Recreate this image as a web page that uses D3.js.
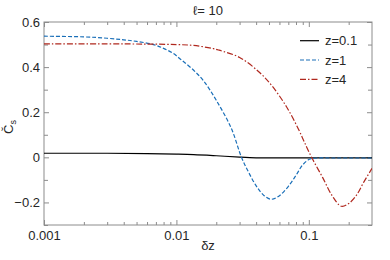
<!DOCTYPE html>
<html>
<head>
<meta charset="utf-8">
<script src="https://cdn.jsdelivr.net/npm/d3@7"></script>
<style>
  body { margin: 0; background: #fff; }
  text { font-family: "Liberation Sans", Arial, sans-serif; fill: #262626; }
</style>
</head>
<body>
<svg id="chart" width="390" height="260"></svg>
<script>
// values
let dzLow = [0.001, 0.002, 0.003, 0.004, 0.005, 0.0067, 0.008, 0.0095, 0.011, 0.0135, 0.016, 0.02, 0.026, 0.031, 0.035, 0.0405, 0.046, 0.052, 0.06, 0.071, 0.08, 0.0895, 0.1, 0.11, 0.15, 0.2, 0.3];
let cZ1 = [0.537, 0.534, 0.528, 0.521, 0.514, 0.5, 0.483, 0.46, 0.43, 0.386, 0.34, 0.253, 0.128, 0.0, -0.065, -0.131, -0.17, -0.186, -0.17, -0.124, -0.08, -0.035, -0.01, -0.004, -0.003, -0.003, -0.003];

let dzHigh = [0.001, 0.003, 0.006, 0.01, 0.0135, 0.019, 0.021, 0.03, 0.0425, 0.053, 0.068, 0.083, 0.093, 0.105, 0.127, 0.15, 0.176, 0.2, 0.229, 0.26, 0.3];
let cZ4 = [0.503, 0.503, 0.502, 0.5, 0.496, 0.482, 0.475, 0.443, 0.376, 0.315, 0.223, 0.128, 0.065, 0.0, -0.089, -0.17, -0.217, -0.205, -0.168, -0.11, -0.049];

let dzSmall = [0.001, 0.003, 0.006, 0.01, 0.0135, 0.02, 0.03, 0.04, 0.05, 0.1, 0.3];
let cZ01 = [0.018, 0.018, 0.016, 0.014, 0.012, 0.007, 0.001, -0.002, -0.002, -0.002, -0.002];

let seriesNames = ["z=0.1", "z=1", "z=4"];
let seriesColors = ["#000000", "#1a6fb8", "#b0281e"];
let seriesDash = [null, "4,2", "6,2,1.5,2"];

let yMajor = [-0.2, 0, 0.2, 0.4, 0.6];
let yMinor = [-0.3, -0.1, 0.1, 0.3, 0.5];
let xMajor = [0.001, 0.01, 0.1];

let svg = d3.select("#chart");
let mLeft = 44, mRight = 372, mTop = 22, mBottom = 225;

let x = d3.scaleLog().domain([0.001, 0.3]).range([mLeft, mRight]);
let y = d3.scaleLinear().domain([-0.3, 0.6]).range([mBottom, mTop]);

let xMinor = [];
[0.001, 0.01, 0.1].forEach(function (p) {
  for (let k = 2; k <= 9; k++) {
    if (p * k <= 0.3) xMinor.push(p * k);
  }
});

let axisColor = "#8c8c8c";
let fmtY = function (v) { return v === 0 ? "0" : d3.format(".1f")(v); };

function styleAxis(g) {
  g.select(".domain").remove();
  g.selectAll(".tick line").attr("stroke", axisColor);
  g.selectAll("text").style("font-size", "13px").attr("fill", "#262626");
}

// bottom
svg.append("g").attr("transform", `translate(0,${mBottom})`)
  .call(d3.axisBottom(x).tickValues(xMajor).tickSize(-5).tickPadding(6).tickFormat(d3.format("")))
  .call(styleAxis);
svg.append("g").attr("transform", `translate(0,${mBottom})`)
  .call(d3.axisBottom(x).tickValues(xMinor).tickSize(-3).tickFormat(""))
  .call(styleAxis);
// top
svg.append("g").attr("transform", `translate(0,${mTop})`)
  .call(d3.axisTop(x).tickValues(xMajor).tickSize(-5).tickFormat(""))
  .call(styleAxis);
svg.append("g").attr("transform", `translate(0,${mTop})`)
  .call(d3.axisTop(x).tickValues(xMinor).tickSize(-3).tickFormat(""))
  .call(styleAxis);
// left
svg.append("g").attr("transform", `translate(${mLeft},0)`)
  .call(d3.axisLeft(y).tickValues(yMajor).tickSize(-5).tickPadding(4).tickFormat(fmtY))
  .call(styleAxis);
svg.append("g").attr("transform", `translate(${mLeft},0)`)
  .call(d3.axisLeft(y).tickValues(yMinor).tickSize(-4).tickFormat(""))
  .call(styleAxis);
// right
svg.append("g").attr("transform", `translate(${mRight},0)`)
  .call(d3.axisRight(y).tickValues(yMajor).tickSize(-5).tickFormat(""))
  .call(styleAxis);
svg.append("g").attr("transform", `translate(${mRight},0)`)
  .call(d3.axisRight(y).tickValues(yMinor).tickSize(-4).tickFormat(""))
  .call(styleAxis);

// frame
svg.append("rect")
  .attr("x", mLeft).attr("y", mTop)
  .attr("width", mRight - mLeft).attr("height", mBottom - mTop)
  .attr("fill", "none").attr("stroke", axisColor).attr("stroke-width", 1);

svg.append("clipPath").attr("id", "clip")
  .append("rect").attr("x", mLeft).attr("y", mTop)
  .attr("width", mRight - mLeft).attr("height", mBottom - mTop);

let line = d3.line()
  .x(function (d) { return x(d[0]); })
  .y(function (d) { return y(d[1]); })
  .curve(d3.curveCatmullRom.alpha(0.5));

let series = [d3.zip(dzSmall, cZ01), d3.zip(dzLow, cZ1), d3.zip(dzHigh, cZ4)];

svg.append("g").attr("clip-path", "url(#clip)")
  .selectAll("path")
  .data(series)
  .enter()
  .append("path")
  .attr("d", line)
  .attr("fill", "none")
  .attr("stroke", function (d, i) { return seriesColors[i]; })
  .attr("stroke-width", 1.2)
  .attr("stroke-dasharray", function (d, i) { return seriesDash[i]; });

// legend
let legend = svg.append("g")
  .selectAll("g")
  .data(seriesNames)
  .enter()
  .append("g")
  .attr("transform", function (d, i) { return `translate(300,${40.7 + i * 19.3})`; });

legend.append("line")
  .attr("x1", 0).attr("x2", 19)
  .attr("stroke", function (d, i) { return seriesColors[i]; })
  .attr("stroke-width", 1.2)
  .attr("stroke-dasharray", function (d, i) { return seriesDash[i]; });

legend.append("text")
  .attr("x", 25).attr("y", 4.5)
  .style("font-size", "13px")
  .text(function (d) { return d; });

// title and axis labels
svg.append("text")
  .attr("x", (mLeft + mRight) / 2).attr("y", 15)
  .attr("text-anchor", "middle")
  .style("font-size", "13px")
  .text("\u2113= 10");

svg.append("text")
  .attr("x", 208).attr("y", 250)
  .attr("text-anchor", "middle")
  .style("font-size", "13px")
  .text("\u03b4z");

let yl = svg.append("text")
  .attr("transform", "translate(13,127) rotate(-90)")
  .attr("text-anchor", "middle")
  .style("font-size", "13px");
yl.append("tspan").text("C\u0306");
yl.append("tspan").attr("dy", 3).style("font-size", "9px").text("s");
</script>
</body>
</html>
